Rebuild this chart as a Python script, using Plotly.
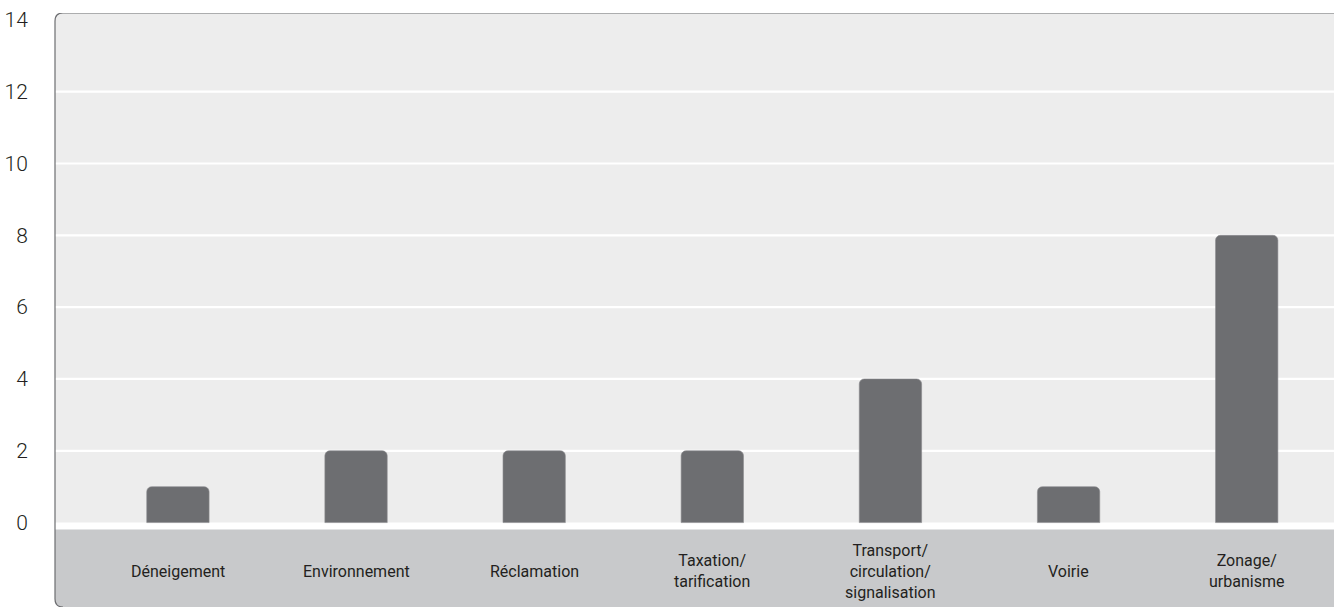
import plotly.graph_objects as go

categories = ["Déneigement", "Environnement", "Réclamation", "Taxation/<br>tarification",
              "Transport/<br>circulation/<br>signalisation", "Voirie", "Zonage/<br>urbanisme"]
values = [1, 2, 2, 2, 4, 1, 8]
y_ticks = [0, 2, 4, 6, 8, 10, 12, 14]
grid_vals = [2, 4, 6, 8, 10, 12]

Y_TOP = 14.19
Y_BOT = -2.35
GAP = -0.19
BAND_MID = -1.36

x_idx = list(range(len(categories)))

fig = go.Figure()
fig.add_trace(go.Bar(
    x=x_idx, y=values, width=0.35,
    marker=dict(color="#6d6e71", line=dict(color="#8b8c8e", width=0.6), cornerradius=5),
    hoverinfo="skip",
))

shapes = []
rx = 8 / 1279.0
ry = 8 / 35.98
shapes.append(dict(type="path", xref="paper", yref="y", layer="below",
                   path=f"M 0,0 L 0,{Y_TOP-ry} Q 0,{Y_TOP} {rx},{Y_TOP} L 1,{Y_TOP} L 1,0 Z",
                   fillcolor="#ededed", line=dict(width=0)))
shapes.append(dict(type="path", xref="paper", yref="y", layer="below",
                   path=f"M 0,{GAP} L 0,{Y_BOT+ry} Q 0,{Y_BOT} {rx},{Y_BOT} L 1,{Y_BOT} L 1,{GAP} Z",
                   fillcolor="#c8c9cb", line=dict(width=0)))
for g in grid_vals:
    shapes.append(dict(type="line", xref="paper", yref="y", layer="below",
                       x0=0, x1=1, y0=g, y1=g, line=dict(color="white", width=2.2)))
shapes.append(dict(type="path", xref="paper", yref="y", layer="above",
                   path=f"M {rx},{Y_BOT} Q 0,{Y_BOT} 0,{Y_BOT+ry} L 0,{Y_TOP-ry} Q 0,{Y_TOP} {rx},{Y_TOP} L 1,{Y_TOP}",
                   line=dict(color="#6d6e71", width=1.2)))

annotations = []
for i, c in enumerate(categories):
    annotations.append(dict(x=i, y=BAND_MID, xref="x", yref="y", text=c, showarrow=False,
                            xanchor="center", yanchor="middle", align="center",
                            font=dict(family="Roboto", size=16, color="#231f20")))

fig.update_layout(
    width=1334, height=608,
    margin=dict(l=55, r=0, t=13, b=1),
    paper_bgcolor="white", plot_bgcolor="white",
    showlegend=False,
    shapes=shapes, annotations=annotations,
    xaxis=dict(range=[-0.69, 6.49], showticklabels=False, showgrid=False, zeroline=False,
               ticks="", showline=False, fixedrange=True),
    yaxis=dict(range=[Y_BOT, Y_TOP], tickvals=y_ticks, ticktext=[str(v) for v in y_ticks],
               showgrid=False, zeroline=False, showline=False,
               ticks="outside", ticklen=22, tickcolor="rgba(0,0,0,0)",
               tickfont=dict(family="Roboto", size=21, color="#231f20", weight=300)),
)

fig.write_html("out.html")
